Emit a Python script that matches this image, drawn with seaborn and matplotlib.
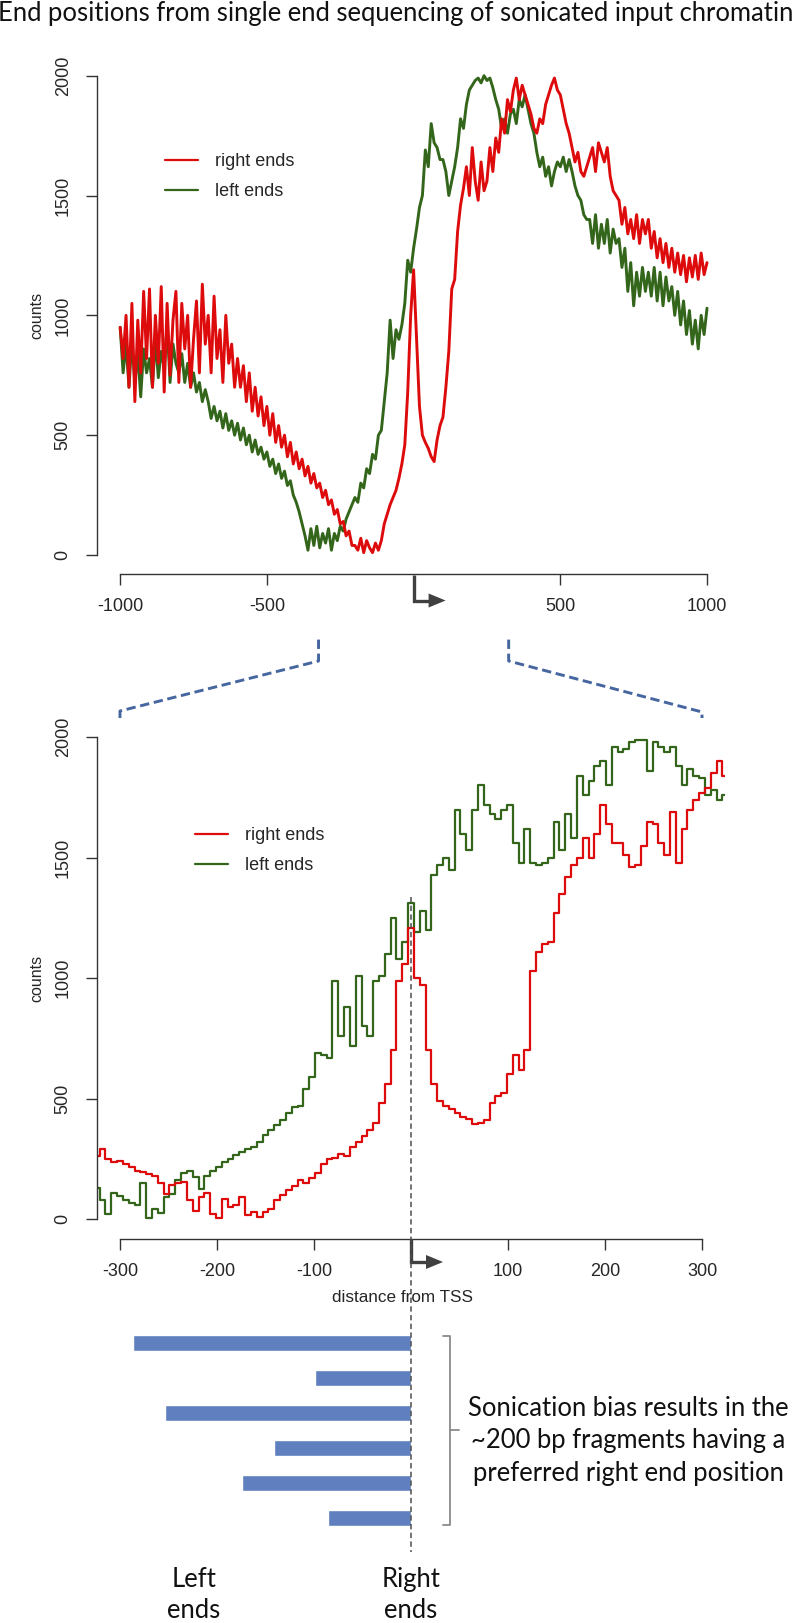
import numpy as np
import pandas as pd
import matplotlib
matplotlib.use("Agg")
import matplotlib.pyplot as plt
import seaborn as sns
from matplotlib.lines import Line2D
from matplotlib.patches import Polygon

# ---------------------------------------------------------------- data
TITLE = "End positions from single end sequencing of sonicated input chromatin"

# top panel: counts every 10 bp from -1000 to 1000
TOP_POS = np.arange(-1000, 1001, 10)
TOP_RIGHT = [
    950, 820, 1000, 700, 1050, 640, 980, 760, 1100, 820,
    1110, 700, 1000, 800, 1120, 680, 1050, 750, 980, 1100,
    720, 1050, 860, 1000, 700, 900, 1060, 760, 1130, 880,
    1000, 760, 1080, 820, 940, 720, 1000, 800, 880, 700,
    820, 700, 790, 640, 760, 600, 700, 580, 660, 540,
    620, 500, 590, 470, 540, 450, 500, 410, 470, 380,
    430, 360, 400, 330, 370, 300, 340, 280, 300, 240,
    270, 210, 230, 170, 190, 130, 140, 80, 100, 40,
    40, 20, 70, 10, 60, 30, 10, 50, 20, 60,
    130, 170, 210, 240, 270, 320, 380, 460, 680, 1000,
    1190, 900, 620, 500, 470, 445, 410, 390, 480, 540,
    575, 700, 850, 1110, 1150, 1350, 1460, 1530, 1620, 1500,
    1700, 1560, 1480, 1640, 1520, 1560, 1700, 1600, 1740, 1680,
    1820, 1760, 1900, 1850, 1940, 1990, 1900, 1960, 1920, 1880,
    1840, 1780, 1760, 1820, 1800, 1880, 1920, 1960, 1990, 1940,
    1920, 1860, 1800, 1760, 1700, 1640, 1680, 1600, 1580, 1620,
    1660, 1700, 1600, 1720, 1680, 1640, 1700, 1580, 1520, 1500,
    1480, 1380, 1450, 1340, 1400, 1320, 1420, 1300, 1400, 1340,
    1400, 1280, 1350, 1240, 1320, 1220, 1300, 1200, 1280, 1180,
    1260, 1170, 1250, 1140, 1240, 1160, 1250, 1150, 1260, 1170, 1220,
]
TOP_LEFT = [
    950, 760, 880, 700, 900, 720, 840, 660, 860, 760,
    820, 700, 900, 740, 850, 780, 960, 720, 880, 800,
    760, 840, 720, 800, 700, 760, 680, 720, 640, 690,
    640, 570, 620, 560, 600, 530, 590, 520, 560, 500,
    550, 480, 530, 460, 500, 430, 480, 420, 450, 400,
    430, 370, 400, 340, 380, 320, 350, 290, 310, 250,
    220, 180, 130, 80, 20, 110, 40, 120, 30, 90,
    50, 110, 20, 90, 60, 120, 100, 150, 180, 210,
    240, 220, 300, 280, 360, 340, 420, 400, 500, 520,
    640, 760, 980, 820, 940, 900, 960, 1050, 1230, 1180,
    1280, 1360, 1450, 1500, 1690, 1620, 1800, 1720, 1700, 1650,
    1650, 1600, 1500, 1560, 1620, 1700, 1820, 1780, 1880, 1940,
    1960, 1980, 1990, 1970, 2000, 1980, 1990, 1950, 1900, 1860,
    1780, 1820, 1760, 1840, 1860, 1800, 1900, 1870, 1920, 1860,
    1800, 1760, 1680, 1620, 1660, 1580, 1620, 1540, 1600, 1640,
    1620, 1660, 1600, 1650, 1600, 1540, 1500, 1480, 1420, 1400,
    1400, 1300, 1420, 1280, 1380, 1300, 1400, 1260, 1360, 1300,
    1320, 1200, 1280, 1100, 1220, 1040, 1180, 1080, 1200, 1100,
    1180, 1080, 1200, 1060, 1180, 1040, 1160, 1060, 1120, 1000,
    1100, 960, 1060, 920, 1020, 880, 980, 860, 1000, 920, 1030,
]

# bottom panel: counts every 6 bp from -324 to 324
BOT_POS = np.arange(-324, 325, 6)
BOT_RIGHT = [
    260, 292, 250, 238, 240, 228, 215, 200, 195,
    185, 180, 150, 105, 140, 150, 155, 80, 35,
    90, 110, 20, 5, 85, 50, 60, 90, 15,
    30, 10, 30, 40, 80, 100, 120, 135, 160,
    150, 170, 190, 230, 250, 255, 270, 260, 300,
    320, 345, 370, 400, 480, 560, 700, 990, 1060,
    1210, 1000, 970, 700, 560, 490, 470, 455, 440,
    425, 415, 395, 400, 410, 480, 510, 525, 600,
    680, 620, 700, 1030, 1110, 1140, 1150, 1270, 1350,
    1420, 1470, 1500, 1580, 1500, 1600, 1720, 1640, 1560,
    1560, 1510, 1460, 1470, 1550, 1650, 1640, 1560, 1510,
    1690, 1480, 1620, 1700, 1740, 1770, 1790, 1850, 1900,
    1840,
]
BOT_LEFT = [
    127, 80, 20, 110, 95, 80, 65, 60, 148,
    5, 40, 25, 90, 105, 160, 190, 200, 175,
    125, 180, 200, 215, 235, 250, 265, 280, 290,
    300, 320, 350, 370, 390, 410, 440, 465, 470,
    540, 590, 690, 680, 670, 990, 760, 880, 720,
    1010, 800, 760, 990, 1010, 1100, 1250, 1080, 1150,
    1310, 1190, 1280, 1200, 1430, 1470, 1500, 1450, 1700,
    1600, 1530, 1700, 1800, 1720, 1680, 1660, 1700, 1720,
    1560, 1480, 1620, 1480, 1470, 1480, 1500, 1650, 1530,
    1680, 1580, 1840, 1760, 1820, 1880, 1900, 1800, 1960,
    1940, 1950, 1980, 1990, 1990, 1860, 1980, 1960, 1940,
    1960, 1880, 1800, 1870, 1840, 1830, 1760, 1780, 1740,
    1760,
]

Y_TICKS = [0, 500, 1000, 1500, 2000]
TOP_XTICKS = [-1000, -500, 500, 1000]
BOT_XTICKS = [-300, -200, -100, 100, 200, 300]

# schematic fragments: left end position, right end at the TSS
FRAG_NAMES = ["f1", "f2", "f3", "f4", "f5", "f6"]
FRAG_LEFT = [-287, -99, -254, -141, -174, -86]

NOTE_LINES = ["Sonication bias results in the",
              "~200 bp fragments having a",
              "preferred right end position"]

RED = "#DD0B0B"
GREEN = "#33661B"
AXIS = "#333333"
BLUE_DASH = "#46669F"
BAR_BLUE = "#5F7FBE"
ARROW = "#404040"

W, H = 792, 1623
CALIBRI_LIKE = ["Lato", "DejaVu Sans"]


def fxy(x, y):
    # pixel (origin top-left) -> figure fraction
    return (x / W, 1 - y / H)


def rect(x0, y0, x1, y1):
    return [x0 / W, 1 - y1 / H, (x1 - x0) / W, (y1 - y0) / H]


def px_of(ax, v):
    return ax.transData.transform((v, 0))[0]


def fig_line(fig, pts, **kw):
    xs = [p[0] / W for p in pts]
    ys = [1 - p[1] / H for p in pts]
    fig.add_artist(Line2D(xs, ys, transform=fig.transFigure, **kw))


def style_panel(ax, xlim, ylim, xticks, xbounds):
    ax.set_xlim(*xlim)
    ax.set_ylim(*ylim)
    ax.patch.set_alpha(0)
    ax.grid(False)
    for s in ("top", "right"):
        ax.spines[s].set_visible(False)
    ax.spines["left"].set_bounds(0, 2000)
    ax.spines["bottom"].set_bounds(*xbounds)
    for s in ("left", "bottom"):
        ax.spines[s].set_color(AXIS)
        ax.spines[s].set_linewidth(1.0)
    ax.set_yticks(Y_TICKS)
    ax.set_yticklabels([str(v) for v in Y_TICKS], rotation=90, va="center")
    ax.set_xticks(xticks)
    ax.set_xticklabels([str(v) for v in xticks])
    ax.tick_params(left=True, bottom=True, direction="out", length=8, width=1,
                   color=AXIS, labelsize=13, labelcolor="#262626")
    ax.tick_params(axis="y", pad=10)
    ax.tick_params(axis="x", pad=9)
    ax.set_xlabel("")
    ax.set_ylabel("")


def draw_curves(ax, pos, right, left, lw, steps):
    df = pd.concat([
        pd.DataFrame({"pos": pos, "count": left, "end": "left ends"}),
        pd.DataFrame({"pos": pos, "count": right, "end": "right ends"}),
    ])
    kw = {"drawstyle": "steps-mid"} if steps else {}
    sns.lineplot(data=df, x="pos", y="count", hue="end",
                 hue_order=["left ends", "right ends"],
                 palette={"left ends": GREEN, "right ends": RED},
                 estimator=None, lw=lw, legend=False, ax=ax, **kw)


def add_legend(fig, ax, x, y):
    handles = [Line2D([], [], color=RED, lw=1.6), Line2D([], [], color=GREEN, lw=1.6)]
    ax.legend(handles, ["right ends", "left ends"], loc="upper left",
              bbox_to_anchor=fxy(x, y), bbox_transform=fig.transFigure,
              frameon=False, fontsize=13, borderpad=0, borderaxespad=0,
              handlelength=1.85, handletextpad=0.9, labelspacing=0.72)


def tss_arrow(fig, x0, y0, y1, head_h):
    fig_line(fig, [(x0, y0), (x0, y1), (x0 + 17, y1)], color=ARROW, lw=2.4,
             solid_joinstyle="miter", solid_capstyle="butt")
    head = [(x0 + 15, y1 - head_h), (x0 + 32, y1), (x0 + 15, y1 + head_h)]
    fig.add_artist(Polygon([fxy(*p) for p in head], closed=True,
                           transform=fig.transFigure, color=ARROW, lw=0))


def fit_width(fig, txt, target):
    r = fig.canvas.get_renderer()
    w = txt.get_window_extent(renderer=r).width
    txt.set_fontsize(txt.get_fontsize() * target / w)
    return txt.get_fontsize()


sns.set_theme(style="white")
plt.rcParams["font.family"] = ["Liberation Sans", "DejaVu Sans"]

fig = plt.figure(figsize=(W / 100, H / 100), dpi=100)
fig.patch.set_facecolor("white")

ax_top = fig.add_axes(rect(96.7, 56.5, 730.5, 574.2))
ax_bot = fig.add_axes(rect(96.7, 717.3, 725.3, 1239.0))
ax_bar = fig.add_axes(rect(96.7, 1325.5, 725.3, 1535.5))

# ---------------------------------------------------------------- top panel
draw_curves(ax_top, TOP_POS, TOP_RIGHT, TOP_LEFT, lw=2.1, steps=False)
style_panel(ax_top, (-1080, 1080), (-80, 2080), TOP_XTICKS, (-1000, 1000))
add_legend(fig, ax_top, 165, 153)

# ---------------------------------------------------------------- zoomed panel
draw_curves(ax_bot, BOT_POS, BOT_RIGHT, BOT_LEFT, lw=1.6, steps=True)
style_panel(ax_bot, (-324, 324), (-83, 2083), BOT_XTICKS, (-300, 300))
add_legend(fig, ax_bot, 195, 827)

# ---------------------------------------------------------------- fragments
bar_df = pd.DataFrame({"fragment": FRAG_NAMES, "left_end": FRAG_LEFT})
sns.barplot(data=bar_df, x="left_end", y="fragment", orient="h",
            color=BAR_BLUE, saturation=1, width=0.43, ax=ax_bar)
ax_bar.set_xlim(-324, 324)
ax_bar.set_ylim(5.5, -0.5)
ax_bar.axis("off")

# ---------------------------------------------------------------- annotations
x0_top = px_of(ax_top, 0)
x0_bot = px_of(ax_bot, 0)
tss_arrow(fig, x0_top, 575, 600.5, 7)
tss_arrow(fig, x0_bot, 1239, 1262, 7)

# zoom connectors from the top panel window to the lower panel
dash = (0, (3.2, 1.6))
fig_line(fig, [(px_of(ax_top, -324), 639.6), (px_of(ax_top, -324), 661),
               (px_of(ax_bot, -300), 711), (px_of(ax_bot, -300), 718)],
         color=BLUE_DASH, lw=2.1, linestyle=dash)
fig_line(fig, [(px_of(ax_top, 324), 639.6), (px_of(ax_top, 324), 661),
               (px_of(ax_bot, 300), 712), (px_of(ax_bot, 300), 718)],
         color=BLUE_DASH, lw=2.1, linestyle=dash)

# TSS guide line
fig_line(fig, [(x0_bot, 897), (x0_bot, 1552)], color="#4D4D4D", lw=1.1,
         linestyle=(0, (3.5, 2.2)), zorder=5)

# bracket
fig_line(fig, [(443, 1335.7), (450.5, 1335.7), (450.5, 1525), (443, 1525)],
         color="#8A8A8A", lw=1.3)
fig_line(fig, [(450.5, 1430), (459, 1430)], color="#8A8A8A", lw=1.3)

# texts
title = fig.text(*fxy(396, 21), TITLE, ha="center", va="baseline",
                 family=CALIBRI_LIKE, fontsize=17, color="#111111")
fit_width(fig, title, 796)

fig.text(*fxy(37, 315), "counts", rotation=90, ha="center", va="center",
         fontsize=11.5, color="#262626")
fig.text(*fxy(37, 978), "counts", rotation=90, ha="center", va="center",
         fontsize=11.5, color="#262626")
fig.text(*fxy(403, 1298), "distance from TSS", ha="center", va="center",
         fontsize=12.3, color="#262626")

note = [fig.text(*fxy(628, y), s, ha="center", va="baseline", family=CALIBRI_LIKE,
                 fontsize=18, color="#111111")
        for s, y in zip(NOTE_LINES, [1416, 1448.3, 1480.7])]
size = fit_width(fig, note[0], 319)
for t in note[1:]:
    t.set_fontsize(size)

for x, top in [(194, "Left"), (411, "Right")]:
    fig.text(*fxy(x, 1587), top, ha="center", va="baseline",
             family=CALIBRI_LIKE, fontsize=size, color="#111111")
    fig.text(*fxy(x, 1618), "ends", ha="center", va="baseline",
             family=CALIBRI_LIKE, fontsize=size, color="#111111")

fig.savefig("out.png", dpi=100, facecolor="white")
